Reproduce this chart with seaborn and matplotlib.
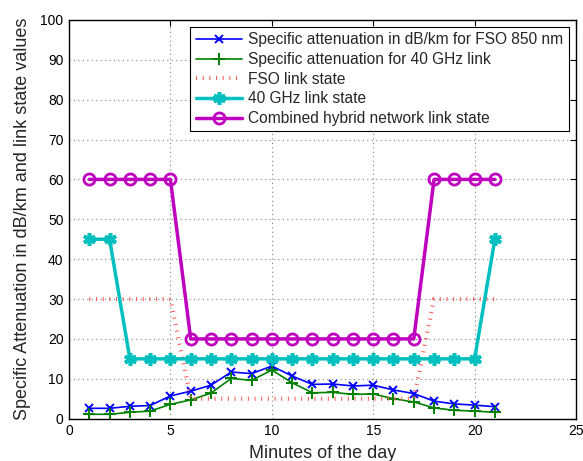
import matplotlib
matplotlib.use("Agg")
import matplotlib.pyplot as plt
import seaborn as sns
import pandas as pd

minutes = list(range(1, 22))
fso_atten = [2.6, 2.6, 3.1, 3.3, 5.7, 6.9, 8.4, 11.7, 11.3, 13.2, 10.7, 8.6,
             8.7, 8.2, 8.4, 7.2, 6.3, 4.4, 3.7, 3.4, 3.0]
mmw_atten = [1.1, 1.1, 1.6, 1.9, 3.6, 4.7, 6.4, 10.1, 9.6, 12.2, 9.0, 6.5,
             6.6, 6.1, 6.2, 5.0, 4.2, 2.7, 2.1, 1.9, 1.6]
fso_state = [30, 30, 30, 30, 30, 5, 5, 5, 5, 5, 5, 5,
             5, 5, 5, 5, 5, 30, 30, 30, 30]
mmw_state = [45, 45, 15, 15, 15, 15, 15, 15, 15, 15, 15, 15,
             15, 15, 15, 15, 15, 15, 15, 15, 45]
hybrid_state = [60, 60, 60, 60, 60, 20, 20, 20, 20, 20, 20, 20,
                20, 20, 20, 20, 20, 60, 60, 60, 60]

labels = ["Specific attenuation in dB/km for FSO 850 nm",
          "Specific attenuation for 40 GHz link",
          "FSO link state",
          "40 GHz link state",
          "Combined hybrid network link state"]

df = pd.DataFrame({"minute": minutes, "fso_atten": fso_atten, "mmw_atten": mmw_atten,
                   "fso_state": fso_state, "mmw_state": mmw_state,
                   "hybrid_state": hybrid_state})

sns.set_style("white")
plt.rcParams["font.family"] = ["Liberation Sans", "DejaVu Sans"]

fig = plt.figure(figsize=(5.83, 4.61), dpi=100)
ax = fig.add_axes([0.1184, 0.0918, 0.8696, 0.865])

# series: column, colour, line width, line style, marker, size, edge width, face
series = [
    ("fso_atten", "#0000ff", 1.2, "-", "x", 6, 1.4, "#0000ff"),
    ("mmw_atten", "#008000", 1.2, "-", "+", 8, 1.4, "#008000"),
    ("fso_state", "#ff5a5a", 3.0, (0, (0.25, 1.35)), "", 0, 0, "none"),
    ("mmw_state", "#00bfbf", 2.5, "-", (6, 2, 0), 9, 2.6, "#00bfbf"),
    ("hybrid_state", "#bf00bf", 2.5, "-", "o", 8, 2.0, "none"),
]
for (col, color, lw, ls, mk, ms, mew, mfc), lab in zip(series, labels):
    sns.lineplot(data=df, x="minute", y=col, ax=ax, color=color, label=lab)
    line = ax.lines[-1]
    line.set_linewidth(lw)
    line.set_linestyle(ls)
    line.set_marker(mk if mk else "None")
    line.set_markersize(ms)
    line.set_markeredgewidth(mew)
    line.set_markeredgecolor(color)
    line.set_markerfacecolor(mfc)

ax.set_xlim(0, 25)
ax.set_ylim(0, 100)
ax.set_xticks(range(0, 26, 5))
ax.set_yticks(range(0, 101, 10))
ax.grid(True, linestyle=(0, (1, 3)), color="#808080", linewidth=0.8)
ax.tick_params(direction="in", top=True, right=True, length=4, labelsize=10,
               width=0.8, colors="black", pad=4)
for s in ax.spines.values():
    s.set_color("black")
    s.set_linewidth(1.0)
ax.set_xlabel("Minutes of the day", fontsize=13, labelpad=5)
ax.set_ylabel("Specific Attenuation in dB/km and link state values", fontsize=13, labelpad=7)

leg = ax.legend(loc="upper right", fontsize=11.2, frameon=True, fancybox=False,
                edgecolor="black", framealpha=1, borderaxespad=0.45,
                handlelength=3.0, labelspacing=0.3, borderpad=0.35, handletextpad=0.4)
leg.get_frame().set_linewidth(0.8)
for h, (col, color, lw, ls, mk, ms, mew, mfc) in zip(leg.get_lines(), series):
    h.set_linewidth(lw)
    h.set_linestyle(ls)
    h.set_marker(mk if mk else "None")
    h.set_markersize(ms)
    h.set_markeredgewidth(mew)
    h.set_markeredgecolor(color)
    h.set_markerfacecolor(mfc)

fig.savefig("out.png", dpi=100)
